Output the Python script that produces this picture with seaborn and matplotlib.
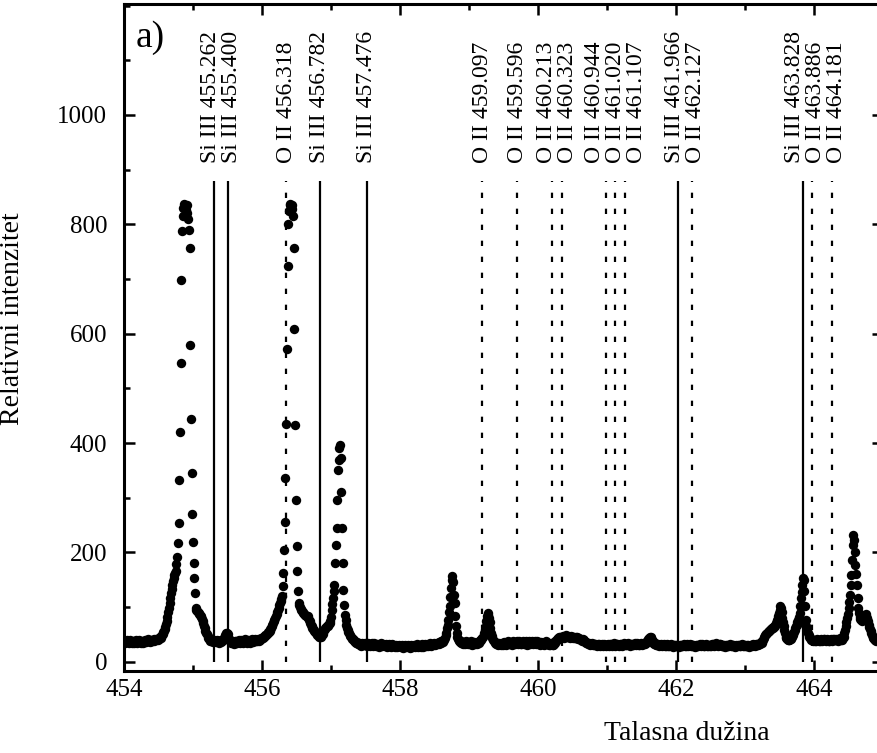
import numpy as np
import pandas as pd
import matplotlib
matplotlib.use('Agg')
import matplotlib.pyplot as plt
import seaborn as sns
from matplotlib.ticker import MultipleLocator

wl_start = 454.0
wl_step = 0.01

seg_454 = [36, 38, 35, 37, 40, 38, 36, 34, 37, 39,
           38, 35, 36, 38, 37, 34, 36, 39, 37, 35,
           36, 38, 40, 37, 35, 36, 38, 36, 34, 37,
           39, 38, 36, 37, 39, 41, 38, 36, 37, 40,
           38, 37, 39, 41, 38, 40, 39, 41, 42, 40,
           42, 43, 45, 44, 47, 49, 51, 54, 57, 60,
           64, 69, 75, 82, 90, 98, 107, 116, 125, 133,
           140, 147, 153, 158, 162, 166, 178, 192, 218, 254,
           333, 420, 547, 698, 788, 815, 830, 838, 835, 832,
           826, 836, 820, 810, 790, 757, 580, 444, 345, 271]
seg_455 = [219, 181, 154, 126, 98, 95, 93, 91, 89, 87,
           85, 84, 82, 79, 75, 71, 66, 61, 57, 53,
           50, 47, 44, 42, 40, 38, 37, 39, 38, 36,
           37, 39, 38, 36, 38, 40, 37, 35, 38, 37,
           39, 36, 38, 40, 41, 43, 46, 49, 52, 53,
           50, 46, 42, 39, 37, 35, 36, 38, 35, 33,
           36, 38, 37, 35, 34, 37, 39, 36, 34, 37,
           40, 38, 36, 35, 38, 41, 39, 37, 35, 37,
           39, 36, 34, 36, 39, 41, 38, 36, 37, 40,
           42, 39, 37, 38, 41, 40, 38, 39, 42, 44]
seg_456 = [43, 44, 45, 46, 47, 48, 49, 51, 52, 54,
           55, 57, 59, 62, 65, 68, 71, 74, 77, 80,
           83, 87, 91, 95, 99, 103, 107, 111, 115, 120,
           138, 162, 205, 256, 336, 435, 572, 723, 800, 825,
           835, 838, 832, 836, 828, 815, 756, 608, 433, 296,
           211, 165, 129, 108, 104, 100, 97, 95, 93, 91,
           89, 87, 86, 85, 84, 84, 83, 80, 77, 74,
           71, 68, 65, 62, 60, 58, 56, 54, 52, 50,
           49, 48, 47, 46, 46, 46, 47, 48, 50, 54,
           58, 60, 62, 63, 65, 66, 68, 69, 70, 74]
seg_457 = [82, 95, 106, 117, 130, 141, 181, 214, 245, 296,
           351, 369, 390, 397, 372, 311, 245, 181, 132, 104,
           86, 76, 68, 62, 58, 55, 52, 49, 47, 45,
           44, 42, 41, 39, 38, 36, 35, 34, 36, 33,
           32, 34, 31, 29, 33, 35, 32, 30, 31, 34,
           33, 30, 28, 31, 34, 32, 29, 30, 33, 35,
           31, 29, 32, 34, 30, 28, 31, 33, 30, 27,
           29, 32, 34, 31, 28, 30, 33, 31, 29, 32,
           30, 27, 29, 31, 33, 30, 28, 26, 29, 32,
           30, 28, 27, 29, 31, 28, 26, 28, 30, 29]
seg_458 = [28, 26, 29, 31, 28, 25, 27, 30, 29, 26,
           28, 31, 29, 27, 25, 28, 30, 27, 26, 29,
           31, 28, 26, 29, 32, 30, 27, 28, 31, 29,
           27, 30, 32, 29, 27, 30, 33, 31, 28, 30,
           32, 29, 31, 34, 31, 29, 32, 30, 33, 35,
           32, 30, 33, 35, 32, 34, 36, 33, 35, 37,
           35, 38, 36, 39, 40, 44, 48, 53, 62, 68,
           77, 90, 101, 118, 135, 150, 156, 145, 122, 108,
           84, 65, 52, 46, 42, 40, 38, 36, 35, 37,
           34, 33, 36, 34, 32, 35, 37, 34, 33, 36]
seg_459 = [34, 32, 35, 37, 34, 31, 33, 36, 34, 32,
           35, 33, 34, 36, 35, 37, 38, 40, 41, 44,
           46, 49, 52, 58, 65, 74, 83, 89, 86, 80,
           72, 62, 53, 47, 43, 40, 38, 36, 35, 33,
           32, 34, 31, 33, 35, 32, 30, 33, 35, 31,
           33, 36, 34, 31, 33, 35, 37, 34, 32, 34,
           36, 33, 31, 34, 37, 35, 32, 34, 36, 38,
           35, 33, 36, 38, 35, 33, 32, 35, 37, 34,
           32, 35, 37, 34, 31, 33, 36, 38, 35, 33,
           35, 37, 34, 32, 35, 38, 36, 33, 35, 37]
seg_460 = [34, 36, 33, 31, 34, 36, 35, 32, 30, 33,
           35, 37, 34, 32, 35, 33, 31, 30, 32, 34,
           33, 31, 30, 32, 35, 37, 38, 40, 42, 44,
           43, 45, 46, 44, 43, 45, 47, 46, 44, 45,
           47, 48, 46, 45, 47, 46, 44, 46, 47, 45,
           44, 46, 45, 43, 44, 46, 45, 43, 41, 42,
           43, 41, 40, 38, 39, 41, 40, 37, 36, 35,
           36, 34, 33, 35, 34, 32, 31, 33, 34, 32,
           30, 31, 33, 32, 30, 29, 31, 33, 32, 30,
           29, 31, 32, 30, 28, 30, 32, 31, 29, 30]
seg_461 = [31, 33, 30, 28, 31, 33, 32, 29, 30, 32,
           34, 31, 29, 30, 32, 33, 30, 28, 31, 33,
           32, 30, 29, 31, 33, 35, 33, 31, 30, 32,
           34, 32, 30, 29, 31, 33, 32, 30, 31, 33,
           35, 33, 31, 32, 34, 33, 31, 30, 32, 34,
           33, 31, 32, 34, 35, 33, 34, 36, 38, 40,
           42, 44, 46, 45, 43, 40, 37, 35, 33, 34,
           32, 30, 31, 33, 32, 30, 29, 31, 32, 30,
           29, 31, 33, 31, 29, 28, 30, 32, 31, 29,
           28, 30, 32, 30, 28, 27, 29, 31, 30, 28]
seg_462 = [29, 31, 30, 28, 27, 29, 31, 30, 28, 29,
           31, 32, 30, 28, 29, 31, 33, 31, 29, 30,
           32, 30, 28, 29, 31, 30, 28, 27, 29, 31,
           30, 28, 29, 31, 33, 31, 29, 30, 32, 31,
           29, 28, 30, 32, 31, 29, 28, 30, 31, 29,
           28, 30, 32, 33, 31, 29, 30, 32, 34, 32,
           30, 29, 31, 33, 32, 30, 28, 29, 31, 30,
           28, 27, 29, 31, 30, 28, 29, 31, 32, 30,
           28, 29, 31, 30, 28, 27, 29, 30, 28, 29,
           31, 30, 28, 29, 31, 32, 30, 28, 29, 31]
seg_463 = [30, 28, 29, 31, 30, 28, 27, 29, 31, 30,
           29, 31, 32, 30, 29, 31, 33, 32, 30, 31,
           33, 32, 34, 36, 35, 37, 40, 43, 46, 48,
           50, 51, 53, 54, 56, 57, 58, 59, 60, 61,
           62, 63, 64, 65, 67, 70, 74, 77, 83, 89,
           95, 101, 98, 90, 80, 72, 65, 58, 52, 46,
           43, 41, 40, 39, 40, 41, 42, 44, 46, 49,
           52, 55, 58, 62, 65, 68, 72, 77, 82, 89,
           101, 117, 128, 141, 154, 150, 130, 101, 77, 65,
           58, 52, 48, 45, 43, 41, 40, 39, 40, 38]
seg_464 = [39, 40, 38, 37, 39, 41, 40, 38, 37, 39,
           41, 40, 38, 39, 41, 42, 40, 38, 39, 41,
           40, 38, 37, 39, 41, 40, 38, 39, 41, 42,
           40, 39, 41, 40, 38, 39, 41, 43, 42, 40,
           40, 42, 44, 46, 52, 58, 65, 72, 80, 88,
           98, 110, 122, 140, 159, 186, 214, 232, 222, 200,
           177, 160, 140, 116, 98, 89, 82, 78, 77, 75,
           76, 78, 80, 83, 86, 88, 84, 80, 74, 68,
           64, 60, 56, 52, 48, 45, 43, 41, 40, 39,
           38, 39, 40, 38, 37, 39, 40, 38, 37, 39]

# identified lines: species, tabulated wavelength, where the marker line is drawn
line_species = ['Si III', 'Si III', 'O II', 'Si III', 'Si III', 'O II', 'O II', 'O II', 'O II',
                'O II', 'O II', 'O II', 'Si III', 'O II', 'Si III', 'O II', 'O II']
line_wl = [455.262, 455.400, 456.318, 456.782, 457.476, 459.097, 459.596, 460.213, 460.323,
           460.944, 461.020, 461.107, 461.966, 462.127, 463.828, 463.886, 464.181]
line_drawn = [455.30, 455.51, 456.35, 456.84, 457.52, 459.19, 459.70, 460.20, 460.35,
              460.99, 461.12, 461.26, 462.03, 462.23, 463.84, 463.97, 464.26]

intensity = (seg_454 + seg_455 + seg_456 + seg_457 + seg_458 + seg_459 +
             seg_460 + seg_461 + seg_462 + seg_463 + seg_464)
wavelength = wl_start + wl_step * np.arange(len(intensity))
df = pd.DataFrame({'wl': wavelength, 'I': intensity})


def spread(xs, gap):
    # push labels apart so that neighbouring texts keep a minimum distance
    groups = [[x] for x in xs]
    while True:
        pos = []
        for g in groups:
            c = np.mean(g)
            n = len(g)
            pos.append([c + (i - (n - 1) / 2) * gap for i in range(n)])
        merged = False
        for i in range(len(groups) - 1):
            if pos[i][-1] + gap > pos[i + 1][0] + 1e-9:
                groups[i] = groups[i] + groups[i + 1]
                del groups[i + 1]
                merged = True
                break
        if not merged:
            return [p for grp in pos for p in grp]


sns.set_style('ticks')
plt.rcParams['font.family'] = ['Liberation Serif', 'DejaVu Serif']
plt.rcParams['text.color'] = 'black'
plt.rcParams['axes.labelcolor'] = 'black'
plt.rcParams['axes.edgecolor'] = 'black'
plt.rcParams['xtick.color'] = 'black'
plt.rcParams['ytick.color'] = 'black'

fig = plt.figure(figsize=(8.77, 7.53), dpi=100)
ax = fig.add_axes([0.1414, 0.1089, 0.8655, 0.8858])

sns.scatterplot(data=df, x='wl', y='I', ax=ax, color='black', s=46,
                linewidth=0, legend=False, zorder=3)

solid = [x for x, sp in zip(line_drawn, line_species) if sp == 'Si III']
dashed = [x for x, sp in zip(line_drawn, line_species) if sp == 'O II']
ax.vlines(solid, 0, 880, colors='black', linewidth=1.6)
ax.vlines(dashed, 0, 880, colors='black', linewidth=1.6, linestyles=(0, (2.4, 4.8)))

label_x = spread(line_drawn, 0.30)
for lx, sp, w in zip(label_x, line_species, line_wl):
    ax.text(lx, 912, f'{sp} {w:.3f}', rotation=90, ha='center', va='bottom', fontsize=17)

ax.text(0.015, 0.935, 'a)', transform=ax.transAxes, fontsize=27, va='baseline')

ax.set_xlim(454, 465)
ax.set_ylim(-17, 1203)
ax.set_xticks([454, 456, 458, 460, 462, 464])
ax.set_yticks([0, 200, 400, 600, 800, 1000])
ax.xaxis.set_minor_locator(MultipleLocator(1))
ax.yaxis.set_minor_locator(MultipleLocator(100))
ax.tick_params(which='both', direction='in', top=True, right=True, width=1.8, labelsize=18)
ax.tick_params(which='major', length=8)
ax.tick_params(which='minor', length=4.3)
ax.tick_params(axis='y', pad=12)
ax.tick_params(axis='x', pad=6)
for s in ax.spines.values():
    s.set_linewidth(2.2)

ax.set_xlabel('Talasna dužina', fontsize=20)
ax.set_ylabel('Relativni intenzitet', fontsize=20)
ax.xaxis.set_label_coords(0.742, -0.075)
ax.yaxis.set_label_coords(-0.13, 0.528)

fig.savefig('out.png', dpi=100)
